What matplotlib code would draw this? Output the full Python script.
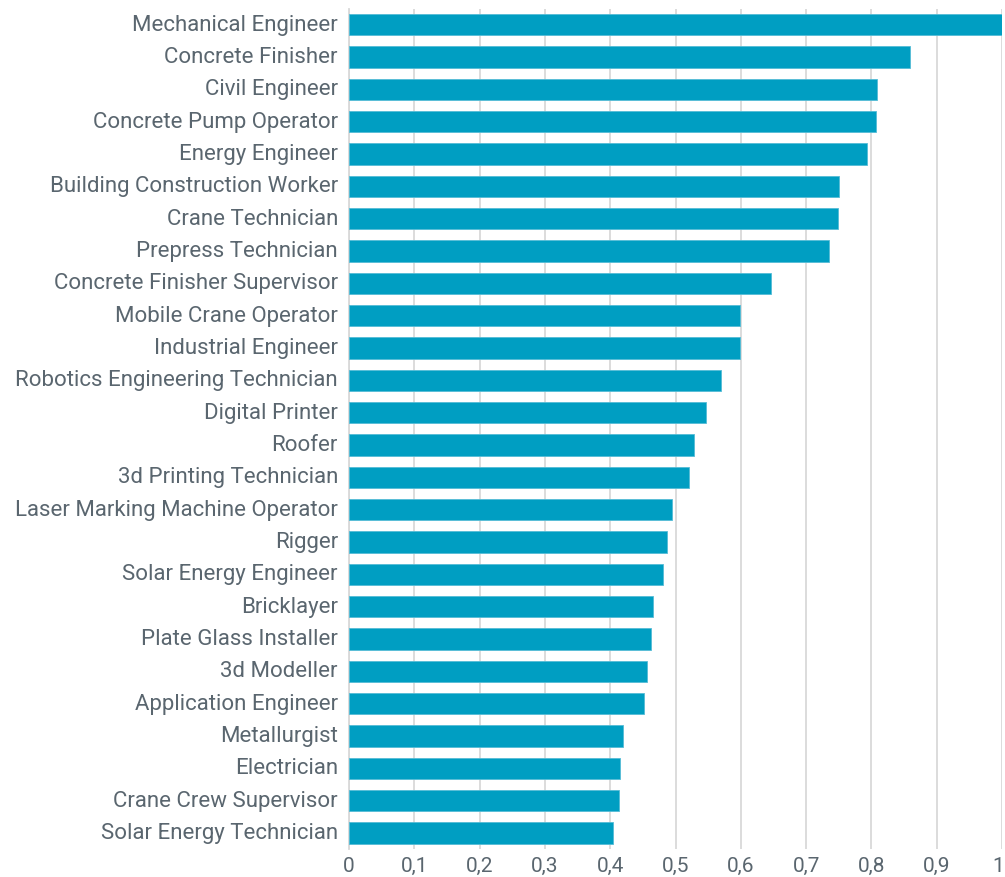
import matplotlib
matplotlib.use("Agg")
import matplotlib.pyplot as plt
from matplotlib.ticker import FixedLocator, FixedFormatter
from matplotlib.transforms import ScaledTranslation

categories = [
    "Mechanical Engineer", "Concrete Finisher", "Civil Engineer", "Concrete Pump Operator",
    "Energy Engineer", "Building Construction Worker", "Crane Technician", "Prepress Technician",
    "Concrete Finisher Supervisor", "Mobile Crane Operator", "Industrial Engineer",
    "Robotics Engineering Technician", "Digital Printer", "Roofer", "3d Printing Technician",
    "Laser Marking Machine Operator", "Rigger", "Solar Energy Engineer", "Bricklayer",
    "Plate Glass Installer", "3d Modeller", "Application Engineer", "Metallurgist",
    "Electrician", "Crane Crew Supervisor", "Solar Energy Technician",
]
values = [
    1.0, 0.859, 0.809, 0.807, 0.794, 0.750, 0.749, 0.735, 0.647, 0.599, 0.599,
    0.569, 0.546, 0.529, 0.520, 0.494, 0.487, 0.481, 0.465, 0.462, 0.456, 0.451,
    0.419, 0.415, 0.414, 0.405,
]
xticks = [0, 0.1, 0.2, 0.3, 0.4, 0.5, 0.6, 0.7, 0.8, 0.9, 1.0]
xtick_labels = ["0", "0,1", "0,2", "0,3", "0,4", "0,5", "0,6", "0,7", "0,8", "0,9", "1"]

text_color = "#5a666f"
bar_color = "#009ec2"

plt.rcParams['font.family'] = ['Roboto', 'DejaVu Sans']

fig = plt.figure(figsize=(10.05, 8.78), dpi=100)
ax = fig.add_axes([349/1005, 1 - 850/878, (1002 - 349)/1005, (850 - 9.6)/878])

ypos = list(range(len(categories)))
ax.barh(ypos, values, height=0.66, color=bar_color, edgecolor="#55bcd6", linewidth=0.6, zorder=3)

ax.set_ylim(len(categories) - 0.5, -0.5)
ax.set_xlim(0, 1.0)
ax.set_yticks(ypos)
ax.set_yticklabels(categories, fontsize=16, color=text_color, fontweight='normal')
ax.xaxis.set_major_locator(FixedLocator(xticks))
ax.xaxis.set_major_formatter(FixedFormatter(xtick_labels))
ax.tick_params(axis='x', labelsize=15, colors=text_color, length=0, pad=5)
ax.tick_params(axis='y', length=0, pad=8)
for lbl in ax.get_yticklabels():
    lbl.set_transform(lbl.get_transform() + ScaledTranslation(0, 3/100, fig.dpi_scale_trans))
last = ax.get_xticklabels()[-1]
last.set_transform(last.get_transform() + ScaledTranslation(-4/100, 0, fig.dpi_scale_trans))

ax.grid(axis='x', color="#d9d9d9", linewidth=1.3, zorder=0)
for s in ["top", "right", "bottom"]:
    ax.spines[s].set_visible(False)
ax.spines["left"].set_color("#d9d9d9")
ax.spines["left"].set_linewidth(1.3)

fig.savefig("out.png", dpi=100)
